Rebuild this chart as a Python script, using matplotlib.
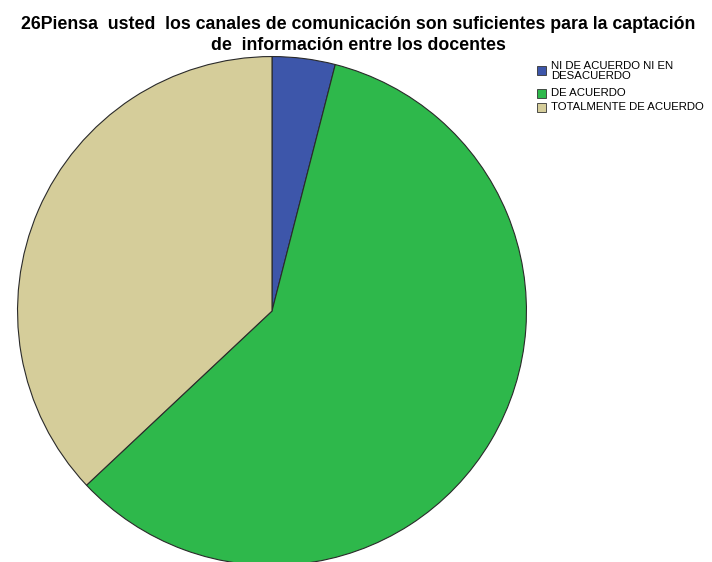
import matplotlib
matplotlib.use("Agg")
import matplotlib.pyplot as plt
from matplotlib.patches import Rectangle

plt.rcParams['font.family'] = ['Liberation Sans', 'DejaVu Sans']

categories = ["NI DE ACUERDO NI EN\nDESACUERDO", "DE ACUERDO", "TOTALMENTE DE ACUERDO"]
values = [4, 59, 37]
colors = ["#3D56AA", "#2EB84B", "#D5CD9A"]

title = ("26Piensa  usted  los canales de comunicación son suficientes para la captación\n"
         "de  información entre los docentes")

W, H = 712, 562
fig = plt.figure(figsize=(W / 100, H / 100), dpi=100)

# pie axes placed by pixel centre and radius
cx, cy, r = 272, 311, 257
ax = fig.add_axes([(cx - r) / W, (H - cy - r) / H, 2 * r / W, 2 * r / H])
ax.pie(values, colors=colors, startangle=90, counterclock=False, radius=1,
       wedgeprops=dict(edgecolor="#2a2a2a", linewidth=0.8))
ax.set_xlim(-1.01, 1.01)
ax.set_ylim(-1.01, 1.01)
ax.set_aspect("equal")
ax.axis("off")

fig.text(358 / W, 1 - 16 / H, title, ha="center", va="top", fontsize=12.8,
         fontweight="bold", linespacing=1.3)

# legend keys and labels, one row per category (row centres in pixels from top)
row_y = [70.5, 93.5, 107.5]
box = 9
for label, color, y in zip(categories, colors, row_y):
    fig.patches.append(Rectangle((537 / W, 1 - (y + box / 2) / H), box / W, box / H,
                                 transform=fig.transFigure, facecolor=color,
                                 edgecolor="#333333", linewidth=0.6))
    fig.text(551 / W, 1 - y / H, label, ha="left", va="center", fontsize=8.2,
             linespacing=1.0)

fig.savefig("out.png", dpi=100)
